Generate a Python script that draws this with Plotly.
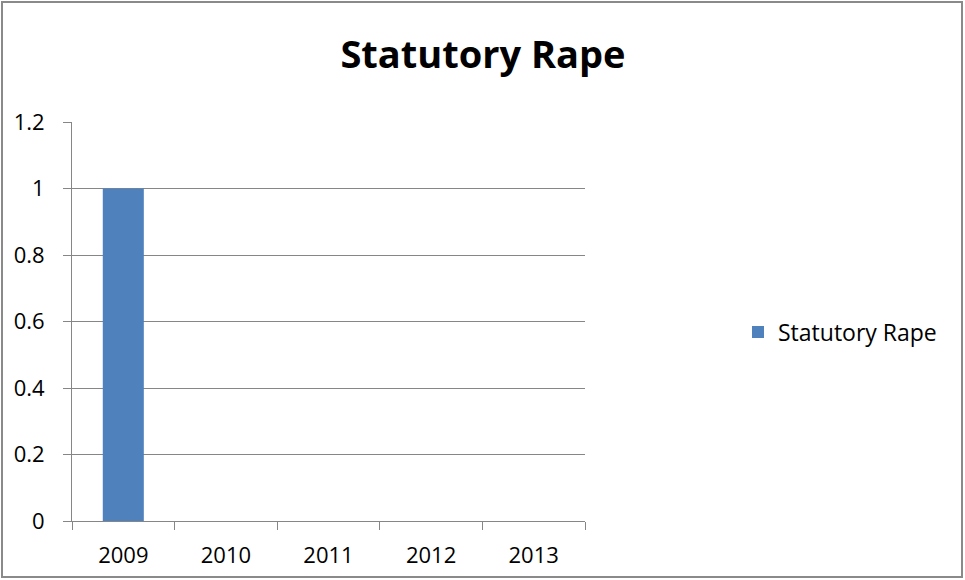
import plotly.graph_objects as go

years = ['2009', '2010', '2011', '2012', '2013']
counts = [1, 0, 0, 0, 0]
series_name = 'Statutory Rape'

W, H = 965, 580
ml, mr, mt, mb = 72, 380, 122, 59
pw, ph = W - ml - mr, H - mt - mb

axis_grey = '#868686'
font = 'Open Sans, Lato, sans-serif'

fig = go.Figure()
fig.add_trace(go.Bar(
    x=years, y=counts, name=series_name,
    marker=dict(color='#4F81BD', line=dict(width=0)),
    width=0.4, showlegend=True,
))

# outer chart border (Excel style)
fig.add_shape(type='rect', xref='paper', yref='paper',
              x0=(2 - ml) / pw, x1=(962 - ml) / pw,
              y0=-(mb - 3) / ph, y1=1 + (mt - 2) / ph,
              line=dict(color='#8a8a8a', width=2), layer='below')

fig.update_layout(
    width=W, height=H,
    margin=dict(l=ml, r=mr, t=mt, b=mb),
    paper_bgcolor='white', plot_bgcolor='white',
    font=dict(family=font, size=22, color='#000000'),
    title=dict(text='<b>Statutory Rape</b>', x=483 / W, xanchor='center',
               y=1 - 55 / H, yanchor='middle',
               font=dict(family=font, size=38, color='#000000')),
    showlegend=True,
    legend=dict(xref='container', yref='container', x=738 / W, y=1 - 332 / H,
                xanchor='left', yanchor='middle',
                font=dict(family=font, size=23, color='#000000'),
                bgcolor='rgba(0,0,0,0)'),
    xaxis=dict(type='category', showgrid=False, showline=True, linecolor=axis_grey,
               linewidth=1, ticks='outside', tickson='boundaries', ticklen=8,
               tickcolor=axis_grey, tickfont=dict(size=22), zeroline=False,
               ticklabelstandoff=15),
    yaxis=dict(range=[0, 1.2], dtick=0.2, showgrid=True, gridcolor=axis_grey,
               gridwidth=1, showline=True, linecolor=axis_grey, linewidth=1,
               ticks='outside', ticklen=8, tickcolor=axis_grey,
               tickfont=dict(size=22), zeroline=False, ticklabelstandoff=14),
)

fig.write_html("out.html", config={'displayModeBar': False},
               post_script="document.body.style.margin='0';")
